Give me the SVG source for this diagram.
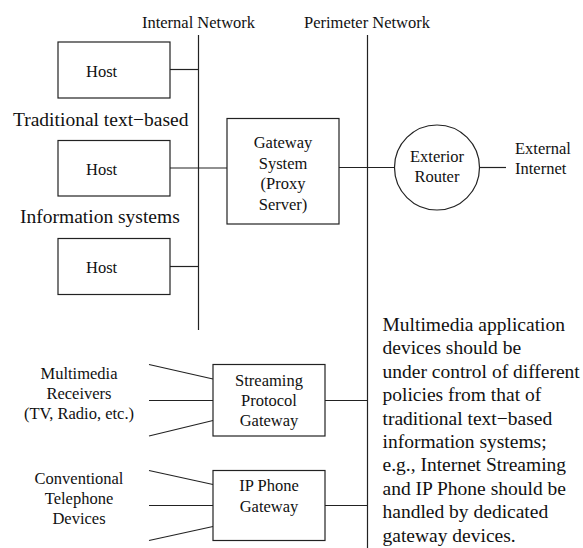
<svg xmlns="http://www.w3.org/2000/svg" width="583" height="548" viewBox="0 0 583 548">
<style>
text{font-family:"Liberation Serif","Times New Roman",serif;fill:#111}
.s{font-size:16.5px}
.b{font-size:19.5px}
.m{text-anchor:middle}
.box{fill:#fff;stroke:#222;stroke-width:1.2}
.ln{stroke:#222;stroke-width:1.2;fill:none}
</style>
<rect width="583" height="548" fill="#fff"/>
<g id="connectors">
<line class="ln" x1="198.5" y1="35" x2="198.5" y2="330"/>
<line class="ln" x1="367.5" y1="35" x2="367.5" y2="548"/>
<line class="ln" x1="170" y1="69.5" x2="198.5" y2="69.5"/>
<line class="ln" x1="170" y1="168" x2="227" y2="168"/>
<line class="ln" x1="170" y1="266.5" x2="198.5" y2="266.5"/>
<line class="ln" x1="339" y1="167.5" x2="394.5" y2="167.5"/>
<line class="ln" x1="479.5" y1="167.5" x2="506" y2="167.5"/>
<line class="ln" x1="149" y1="364.5" x2="213" y2="379"/>
<line class="ln" x1="149" y1="400.5" x2="213" y2="400.5"/>
<line class="ln" x1="149" y1="436" x2="213" y2="420.5"/>
<line class="ln" x1="325" y1="400.5" x2="367.5" y2="400.5"/>
<line class="ln" x1="149" y1="470.5" x2="213" y2="484.5"/>
<line class="ln" x1="149" y1="505.5" x2="213" y2="505.5"/>
<line class="ln" x1="149" y1="540.5" x2="213" y2="526.5"/>
<line class="ln" x1="325" y1="505.5" x2="367.5" y2="505.5"/>
</g>
<g id="internal-network-label"><text class="s m" x="198.5" y="27.5">Internal Network</text></g>
<g id="perimeter-network-label"><text class="s m" x="367" y="27.5">Perimeter Network</text></g>
<g id="host1"><rect class="box" x="58" y="42" width="112" height="56"/><text class="s" x="86" y="76.5">Host</text></g>
<g id="label-traditional"><text class="b" x="13" y="126">Traditional text−based</text></g>
<g id="host2"><rect class="box" x="58" y="140.5" width="112" height="55.5"/><text class="s" x="86" y="175">Host</text></g>
<g id="label-information"><text class="b" x="20" y="223">Information systems</text></g>
<g id="host3"><rect class="box" x="58" y="238.5" width="112" height="56"/><text class="s" x="86" y="273">Host</text></g>
<g id="gateway-system"><rect class="box" x="227" y="118.5" width="112" height="105.5"/>
<text class="s m" x="283" y="147.5">Gateway</text>
<text class="s m" x="283" y="168.5">System</text>
<text class="s m" x="283" y="189">(Proxy</text>
<text class="s m" x="283" y="210">Server)</text></g>
<g id="exterior-router"><circle class="box" cx="437" cy="167.5" r="42.5"/>
<text class="s m" x="437" y="161.5">Exterior</text>
<text class="s m" x="437" y="181.5">Router</text></g>
<g id="external-internet"><text class="s" x="515" y="154">External</text><text class="s" x="515" y="174">Internet</text></g>
<g id="multimedia-receivers"><text class="s m" x="79" y="379">Multimedia</text><text class="s m" x="79" y="399">Receivers</text><text class="s m" x="79" y="419">(TV, Radio, etc.)</text></g>
<g id="streaming-gateway"><rect class="box" x="213" y="364.5" width="112" height="71.5"/>
<text class="s m" x="269" y="385.5">Streaming</text>
<text class="s m" x="269" y="405.5">Protocol</text>
<text class="s m" x="269" y="425.5">Gateway</text></g>
<g id="telephone-devices"><text class="s m" x="79" y="484">Conventional</text><text class="s m" x="79" y="504">Telephone</text><text class="s m" x="79" y="524">Devices</text></g>
<g id="ip-phone-gateway"><rect class="box" x="213" y="470.5" width="112" height="70"/>
<text class="s m" x="269" y="491">IP Phone</text>
<text class="s m" x="269" y="512">Gateway</text></g>
<g id="note"><text class="b" x="382.5" y="331">Multimedia application</text>
<text class="b" x="382.5" y="354.4">devices should be</text>
<text class="b" x="382.5" y="377.8">under control of different</text>
<text class="b" x="382.5" y="401.2">policies from that of</text>
<text class="b" x="382.5" y="424.6">traditional text−based</text>
<text class="b" x="382.5" y="448">information systems;</text>
<text class="b" x="382.5" y="471.4">e.g., Internet Streaming</text>
<text class="b" x="382.5" y="494.8">and IP Phone should be</text>
<text class="b" x="382.5" y="518.2">handled by dedicated</text>
<text class="b" x="382.5" y="541.6">gateway devices.</text></g>
</svg>
